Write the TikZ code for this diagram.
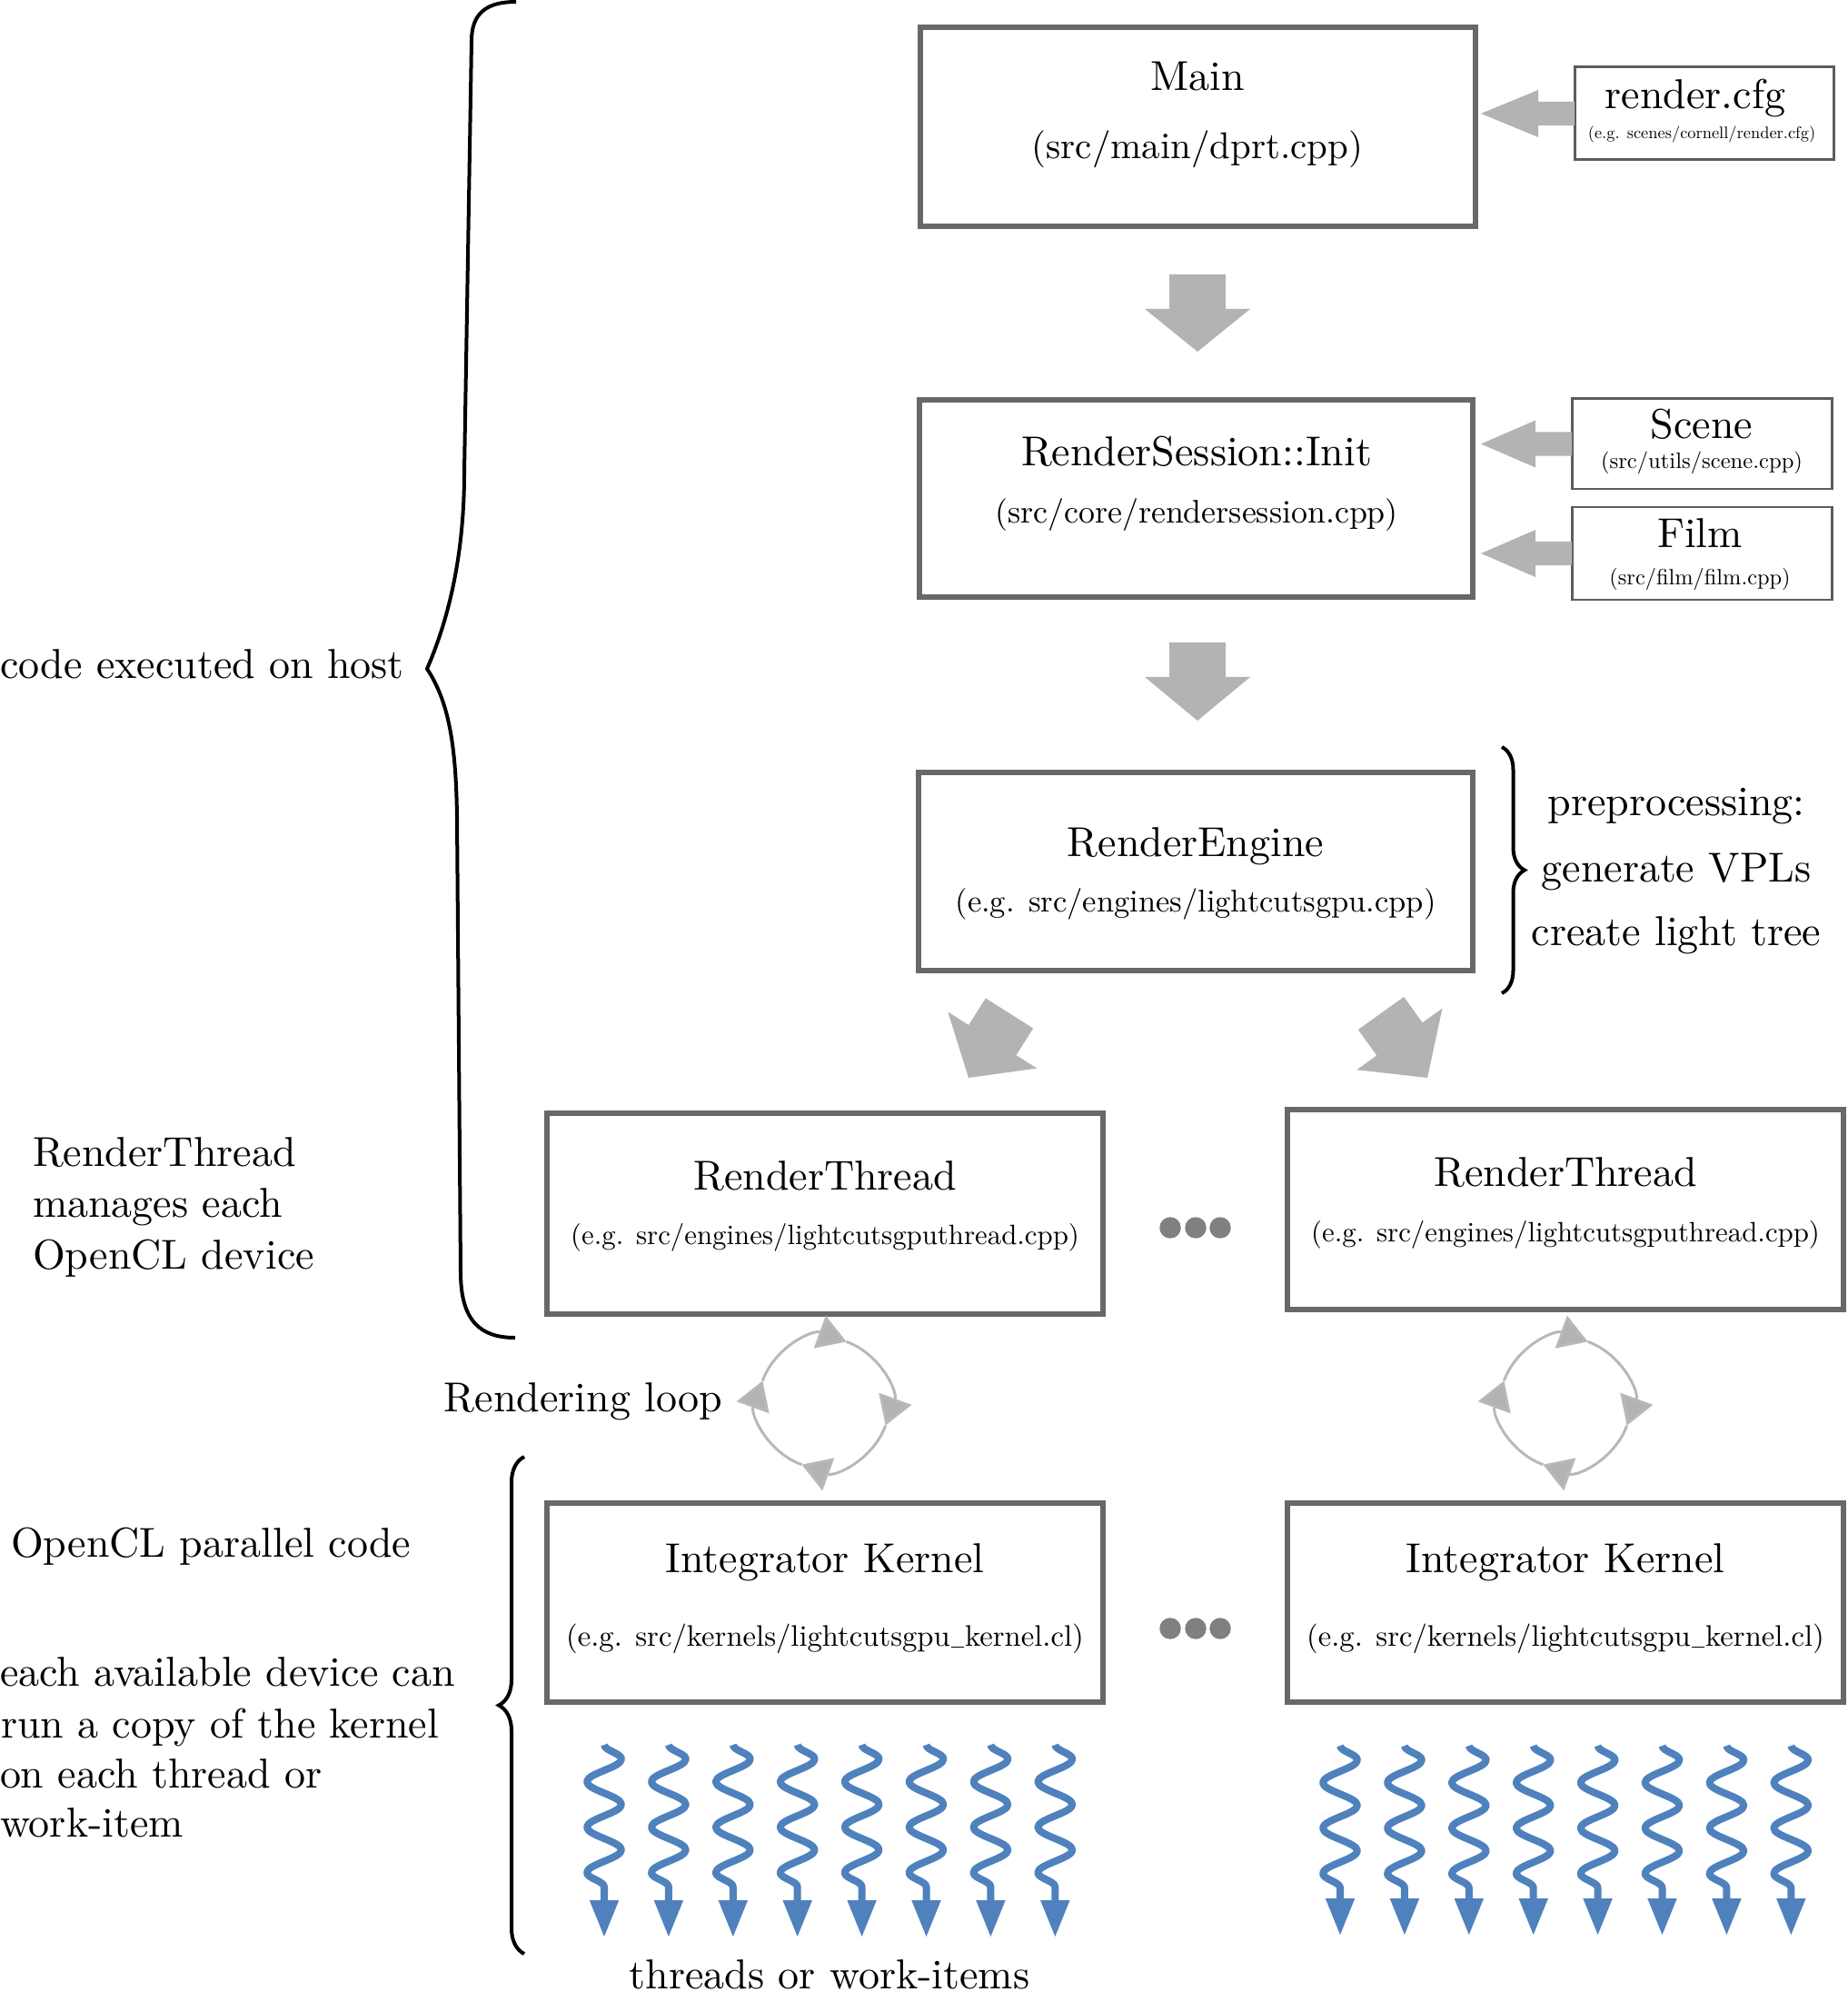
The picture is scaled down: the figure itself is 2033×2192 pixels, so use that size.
\documentclass[tikz,border=0pt]{standalone}
\usepackage{graphicx}
\usetikzlibrary{arrows.meta,calc,fit,decorations.pathmorphing,decorations.pathreplacing}

\definecolor{boxgray}{RGB}{104,104,104}
\definecolor{smallgray}{RGB}{92,92,92}
\definecolor{flowgray}{RGB}{179,179,179}
\definecolor{loopgray}{RGB}{184,184,184}
\definecolor{dotgray}{RGB}{128,128,128}
\definecolor{wireblue}{RGB}{79,129,189}

% short low rule used as underscore in file names
\newcommand{\uscore}{\kern0.04em\rule[-0.06em]{0.42em}{0.045em}\kern0.04em}

% block arrow: #1 tail, #2 tip, #3 shaft half width, #4 head half width, #5 shaft length
\newcommand{\flowarrow}[5]{%
  \coordinate (fa-h) at ($(#1)!#5!(#2)$);
  \fill[flowgray] ($(#1)!#3!90:(#2)$) -- ($(fa-h)!#3!90:(#2)$) -- ($(fa-h)!#4!90:(#2)$)
    -- (#2) -- ($(fa-h)!#4!-90:(#2)$) -- ($(fa-h)!#3!-90:(#2)$) -- ($(#1)!#3!-90:(#2)$) -- cycle;
}

\begin{document}
\begin{tikzpicture}[x=0.21739pt, y=-0.21739pt,
  every node/.style={inner sep=0pt, outer sep=0pt, font=\fontsize{10}{12}\selectfont},
  bigbox/.style={draw=boxgray, line width=1.3pt, fit={#1}, inner sep=0pt},
  smallbox/.style={draw=smallgray, line width=0.65pt, fit={#1}, inner sep=0pt},
  txt/.style={anchor=base},
  lefttxt/.style={anchor=base west},
  dot/.style={circle, fill=dotgray, minimum size=5.1pt},
  brace/.style={draw, line width=0.87pt, decorate, decoration={brace, amplitude=#1}},
  loopline/.style={draw=loopgray, line width=0.65pt, -{Triangle[length=6.8pt, width=8.2pt, fill=flowgray]}},
  wave/.style={draw=wireblue, line width=1.74pt, line join=round, decorate,
    decoration={snake, segment length=10.87pt, amplitude=4.13pt, post length=11.3pt},
    -{Triangle[length=8.9pt, width=6.5pt]}}
]
\useasboundingbox (0,0) rectangle (2033,2192);

% ---- host-side call chain ----
\node[bigbox={(1013,30) (1624,249)}] (main) {};
\node[txt] (mainT) at (1318,100) {Main};
\node[txt] (mainS) at (1318,175) {\scalebox{0.89}{(src/main/dprt.cpp)}};

\node[smallbox={(1733,74) (2018,176)}] (cfg) {};
\node[txt] (cfgT) at (1866,120) {render.cfg};
\node[txt] (cfgS) at (1873,153) {\scalebox{0.40}{(e.g. scenes/cornell/render.cfg)}};

\node[bigbox={(1012,440) (1621,657)}] (rs) {};
\node[txt] (rsT) at (1317,513) {RenderSession::Init};
\node[txt] (rsS) at (1317,576) {\scalebox{0.78}{(src/core/rendersession.cpp)}};

\node[smallbox={(1730,439) (2016,538)}] (scene) {};
\node[txt] (sceneT) at (1873,483) {Scene};
\node[txt] (sceneS) at (1873,516) {\scalebox{0.535}{(src/utils/scene.cpp)}};

\node[smallbox={(1730,558) (2016,660)}] (film) {};
\node[txt] (filmT) at (1871,603) {Film};
\node[txt] (filmS) at (1871,644) {\scalebox{0.53}{(src/film/film.cpp)}};

\node[bigbox={(1011,850) (1621,1068)}] (re) {};
\node[txt] (reT) at (1316,942) {RenderEngine};
\node[txt] (reS) at (1316,1003) {\scalebox{0.75}{(e.g. src/engines/lightcutsgpu.cpp)}};

\node[txt] (pre1) at (1845,897) {preprocessing:};
\node[txt] (pre2) at (1845,970) {generate VPLs};
\node[txt] (pre3) at (1845,1040) {create light tree};

% ---- per-device threads ----
\node[bigbox={(602,1225) (1214,1446)}] (rtL) {};
\node[txt] (rtLT) at (908,1309) {RenderThread};
\node[txt] (rtLS) at (908,1369) {\scalebox{0.67}{(e.g. src/engines/lightcutsgputhread.cpp)}};

\node[bigbox={(1417,1221) (2029,1441)}] (rtR) {};
\node[txt] (rtRT) at (1723,1305) {RenderThread};
\node[txt] (rtRS) at (1723,1366) {\scalebox{0.67}{(e.g. src/engines/lightcutsgputhread.cpp)}};

\node[bigbox={(602,1654) (1214,1873)}] (ikL) {};
\node[txt] (ikLT) at (908,1730) {Integrator Kernel};
\node[txt] (ikLS) at (908,1811) {\scalebox{0.71}{(e.g. src/kernels/lightcutsgpu\uscore kernel.cl)}};

\node[bigbox={(1417,1654) (2029,1873)}] (ikR) {};
\node[txt] (ikRT) at (1723,1730) {Integrator Kernel};
\node[txt] (ikRS) at (1723,1811) {\scalebox{0.71}{(e.g. src/kernels/lightcutsgpu\uscore kernel.cl)}};

% ellipsis between devices
\node[dot] (d1) at (1288,1351) {};
\node[dot] (d2) at (1316,1351) {};
\node[dot] (d3) at (1343,1351) {};
\node[dot] (e1) at (1288,1792) {};
\node[dot] (e2) at (1316,1792) {};
\node[dot] (e3) at (1343,1792) {};

% ---- flow arrows ----
\coordinate (cfgTip) at ($(main.east|-cfg.west)+(6,0)$);
\coordinate (sceneTip) at ($(rs.east|-scene.west)+(9,0)$);
\coordinate (filmTip) at ($(rs.east|-film.west)+(9,0)$);
\flowarrow{cfg.west}{cfgTip}{2.83pt}{5.65pt}{8.7pt}
\flowarrow{scene.west}{sceneTip}{2.83pt}{5.65pt}{8.7pt}
\flowarrow{film.west}{filmTip}{2.83pt}{5.65pt}{8.7pt}

\coordinate (a1s) at (1318,302);
\coordinate (a1e) at (1318,387);
\coordinate (a2s) at (1318,707);
\coordinate (a2e) at (1318,793);
\coordinate (a3s) at (1111,1115);
\coordinate (a3e) at (1066,1186);
\coordinate (a4s) at (1520,1115);
\coordinate (a4e) at (1571,1186);
\flowarrow{a1s}{a1e}{6.74pt}{12.61pt}{8.26pt}
\flowarrow{a2s}{a2e}{6.74pt}{12.61pt}{8.26pt}
\flowarrow{a3s}{a3e}{6.74pt}{12.61pt}{7.6pt}
\flowarrow{a4s}{a4e}{6.74pt}{12.61pt}{7.6pt}

% ---- rendering loops ----
\coordinate (loopL) at (907,1544);
\coordinate (loopR) at (1723,1544);
\foreach \c in {loopL,loopR}{
  \foreach \a in {160,70,-20,-110}{
    \draw[loopline] ($(\c)+(\a:15.65pt)$) arc[start angle=\a, end angle=\a-90, radius=15.65pt];
  }
}
\node[txt] (loopT) at (642,1553) {Rendering loop};

% ---- braces ----
\draw[line width=0.87pt] (568,2) .. controls (535,2) and (519,15) .. (519,45)
  -- (511,520) .. controls (511,620) and (490,690) .. (470,736)
  .. controls (494,772) and (502,820) .. (503,900)
  -- (507,1400) .. controls (507,1455) and (530,1472) .. (567,1472);
\draw[brace=5.43pt] (1653,822) -- (1653,1093);
\draw[brace=6.09pt] (577,2150) -- (577,1603);

% ---- side notes ----
\node[lefttxt] (hostT) at (0,746) {code executed on host};
\node[lefttxt] (rtn1) at (36,1283) {RenderThread};
\node[lefttxt] (rtn2) at (36,1339) {manages each};
\node[lefttxt] (rtn3) at (36,1396) {OpenCL device};
\node[lefttxt] (clT) at (12,1713) {OpenCL parallel code};
\node[lefttxt] (dev1) at (0,1855) {each available device can};
\node[lefttxt] (dev2) at (1,1912) {run a copy of the kernel};
\node[lefttxt] (dev3) at (0,1967) {on each thread or};
\node[lefttxt] (dev4) at (0,2021) {work-item};

% ---- work-items ----
\foreach \i in {0,...,7}{
  \coordinate (wl\i s) at (665+70.9*\i,1920);
  \coordinate (wl\i e) at (665+70.9*\i,2132);
  \draw[wave] (wl\i s) -- (wl\i e);
  \coordinate (wr\i s) at (1475+70.9*\i,1921);
  \coordinate (wr\i e) at (1475+70.9*\i,2130);
  \draw[wave] (wr\i s) -- (wr\i e);
}
\node[txt] (wiT) at (913,2188) {threads or work-items};
\end{tikzpicture}
\end{document}
